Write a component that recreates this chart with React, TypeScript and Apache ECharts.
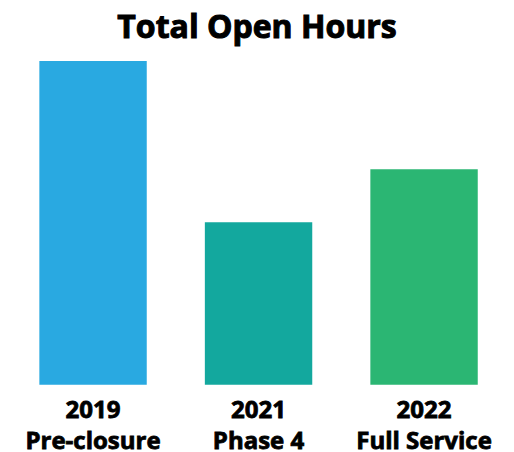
import React, { useEffect, useRef } from "react";
import * as echarts from "echarts";

const years = ["2019", "2021", "2022"];
const phases = ["Pre-closure", "Phase 4", "Full Service"];
const values = [323, 162, 215];
const colors = ["#29A9E1", "#13A89E", "#2BB673"];

const categories = years.map((y, i) => `${y}\n${phases[i]}`);

export default function App() {
  const ref = useRef<HTMLDivElement>(null);
  useEffect(() => {
    const chart = echarts.init(ref.current!, undefined, { renderer: "svg" });
    const labelFont = {
      fontFamily: "Open Sans",
      fontWeight: "bold",
      fontSize: 24,
      color: "#000",
      textBorderColor: "#000",
      textBorderWidth: 0.8,
    };
    chart.setOption({
      animation: false,
      title: {
        text: "Total Open Hours",
        left: "center",
        top: 4,
        textStyle: {
          fontFamily: "Open Sans",
          fontWeight: "bold",
          fontSize: 32,
          color: "#000",
          textBorderColor: "#000",
          textBorderWidth: 1,
        },
      },
      grid: { left: 10.3, right: 7.2, top: 61, bottom: 67.3, outerBoundsMode: "none", containLabel: false },
      xAxis: {
        type: "category",
        data: categories,
        axisLine: { show: false },
        axisTick: { show: false },
        axisLabel: {
          interval: 0,
          margin: 5.5,
          formatter: (v: string) => {
            const [a, b] = v.split("\n");
            return `{a|${a}}\n{b|${b}}`;
          },
          rich: {
            a: { ...labelFont, lineHeight: 37 },
            b: { ...labelFont, lineHeight: 24 },
          },
        },
      },
      yAxis: {
        type: "value",
        min: 0,
        max: 323,
        show: false,
        splitLine: { show: false },
      },
      series: [
        {
          type: "bar",
          data: values.map((v, i) => ({ value: v, itemStyle: { color: colors[i] } })),
          barWidth: 107.4,
        },
      ],
    });
    return () => chart.dispose();
  }, []);
  return (
    <div
      ref={ref}
      style={{ position: "fixed", left: 0, top: 0, width: 514, height: 452, background: "#fff" }}
    />
  );
}
